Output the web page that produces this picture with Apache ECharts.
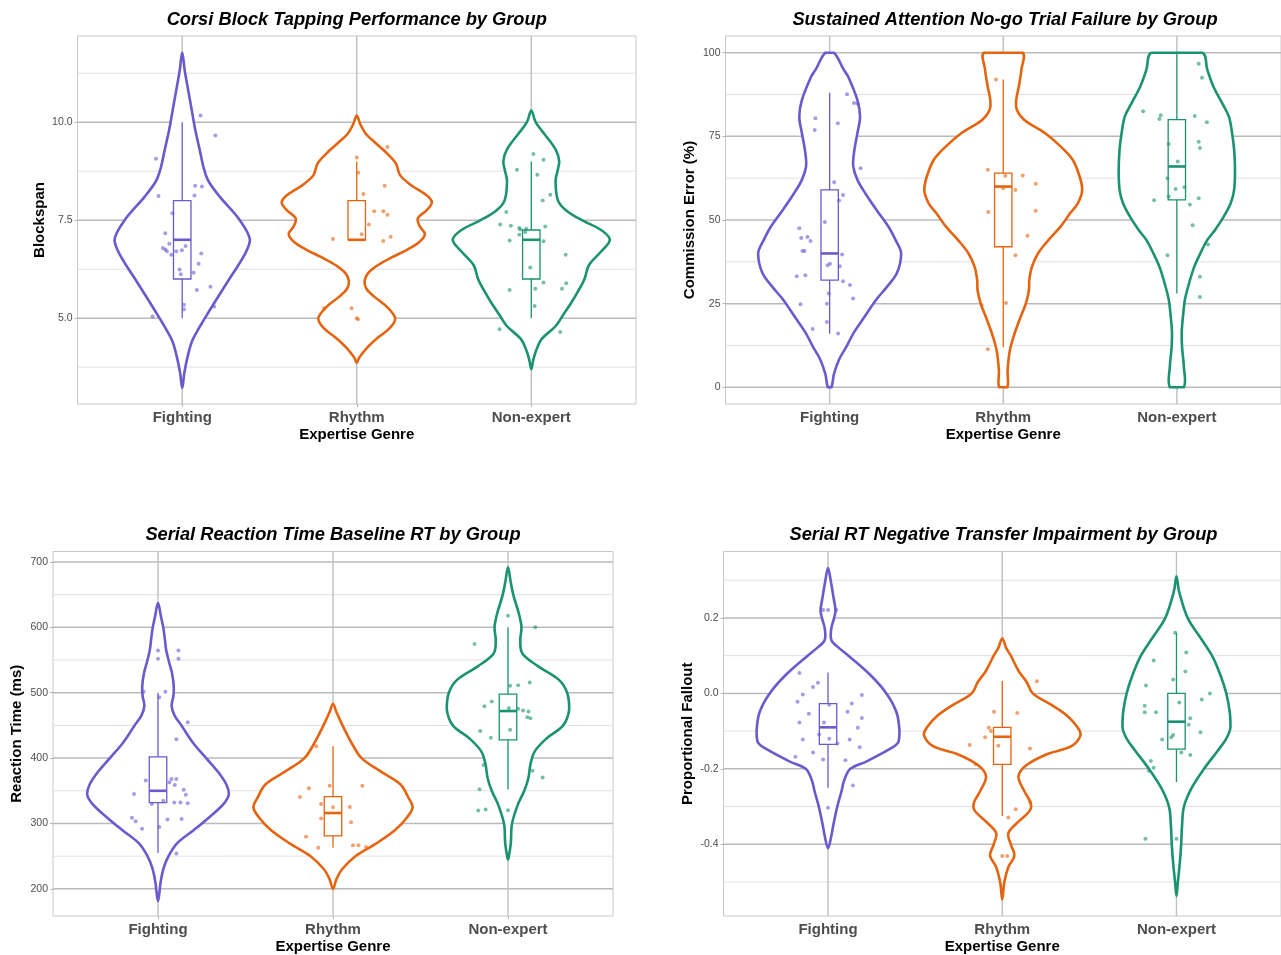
<!DOCTYPE html>
<html>
<head>
<meta charset="utf-8">
<script src="https://cdn.jsdelivr.net/npm/echarts@6/dist/echarts.min.js"></script>
<style>
  html, body { margin: 0; padding: 0; background: #fff; }
  #chart { width: 1281px; height: 955px; }
</style>
</head>
<body>
<div id="chart"></div>
<script>
const groups = ['Fighting', 'Rhythm', 'Non-expert'];
const groupColors = ['#6a5acd', '#e4640f', '#1b9270'];

// violin outlines: [value, half width in category units]
// boxes: [lower whisker, q1, median, q3, upper whisker]
// points: [horizontal jitter, value]

// --- Corsi block tapping
const corsiMajor = [5, 7.5, 10];
const corsiMinor = [3.75, 6.25, 8.75, 11.25];
const corsiFightingViolin = [[11.78,0],[11.3,0.015],[10.8,0.035],[10.3,0.055],[9.8,0.075],[9.3,0.1],[8.8,0.125],[8.5,0.15],[8.1,0.215],[7.5,0.33],[7.0,0.388],[6.6,0.355],[6.0,0.27],[5.4,0.185],[5.0,0.13],[4.7,0.09],[4.4,0.055],[4.0,0.03],[3.6,0.012],[3.22,0]];
const corsiRhythmViolin = [[10.17,0],[9.95,0.02],[9.7,0.053],[9.5,0.1],[9.29,0.153],[8.95,0.224],[8.65,0.248],[8.4,0.31],[8.1,0.41],[7.95,0.43],[7.75,0.4],[7.55,0.35],[7.35,0.36],[7.15,0.39],[6.95,0.36],[6.75,0.29],[6.55,0.2],[6.35,0.12],[6.15,0.065],[5.95,0.045],[5.75,0.055],[5.55,0.1],[5.3,0.17],[5.0,0.22],[4.75,0.19],[4.5,0.12],[4.25,0.06],[4.0,0.015],[3.86,0]];
const corsiNonexpertViolin = [[10.3,0],[10.0,0.025],[9.7,0.075],[9.3,0.14],[9.0,0.16],[8.75,0.15],[8.5,0.139],[8.0,0.153],[7.75,0.2],[7.5,0.29],[7.25,0.4],[7.0,0.45],[6.7,0.4],[6.35,0.33],[6.0,0.305],[5.7,0.27],[5.4,0.23],[5.1,0.185],[4.8,0.14],[4.47,0.06],[4.2,0.03],[3.95,0.012],[3.7,0]];
const corsiBoxes = [[5, 6, 7, 8, 10], [7, 7, 7, 8, 9], [5, 6, 7, 7.25, 9]];
const corsiFightingPoints = [[0.105,10.17],[0.19,9.66],[-0.15,9.07],[-0.136,8.12],[0.074,8.38],[0.113,8.36],[0.07,8.13],[-0.056,7.68],[-0.097,7.17],[-0.074,6.9],[-0.111,6.79],[-0.097,6.75],[-0.088,6.71],[-0.063,6.62],[-0.034,6.71],[-0.002,6.73],[0.019,6.84],[0.109,6.65],[0.094,6.39],[-0.015,6.24],[-0.008,6.12],[0.065,6.16],[0.084,5.72],[0.162,5.8],[0.183,5.3],[0.01,5.34],[0.01,5.23],[-0.17,5.04]];
const corsiRhythmPoints = [[0.176,9.37],[0,9.1],[0.008,8.71],[0.16,8.38],[0.038,8.17],[0.1,7.73],[0.152,7.73],[0.176,7.64],[0.07,7.39],[0.028,7.14],[-0.136,7.02],[0.152,6.97],[0.194,7.08],[-0.187,5.25],[-0.03,5.25],[0,5.0],[0.007,4.97]];
const corsiNonexpertPoints = [[0.012,9.19],[0.07,9.04],[-0.082,8.79],[0.035,8.66],[0.109,8.15],[0.065,8.0],[-0.143,7.71],[-0.178,7.39],[-0.117,7.36],[-0.069,7.3],[-0.063,7.26],[-0.034,7.2],[-0.029,7.28],[0.08,7.34],[-0.124,6.98],[-0.069,7.13],[0.07,6.96],[0.197,6.62],[-0.006,6.29],[0.07,5.91],[-0.124,5.72],[0.023,5.75],[0.176,5.75],[0.2,5.89],[0.019,5.31],[-0.182,4.72],[0.166,4.65]];

// --- Sustained attention no-go failures
const sartMajor = [0, 25, 50, 75, 100];
const sartMinor = [12.5, 37.5, 62.5, 87.5];
const sartFightingViolin = [[100,0.025],[95,0.08],[92.8,0.107],[85.8,0.16],[80.9,0.175],[76,0.16],[70,0.14],[66,0.136],[62,0.16],[58,0.205],[53,0.27],[48,0.339],[44,0.38],[40,0.412],[34.2,0.388],[30,0.33],[26.3,0.27],[21,0.2],[16.4,0.14],[12,0.095],[8.4,0.055],[4,0.025],[0,0.01]];
const sartRhythmViolin = [[100,0.11],[95,0.105],[90,0.09],[86,0.075],[83,0.078],[80,0.12],[76,0.24],[72,0.33],[68,0.4],[63,0.44],[59,0.455],[55,0.43],[52,0.385],[48,0.33],[44,0.26],[40,0.2],[36,0.165],[32,0.15],[29,0.148],[25,0.13],[21,0.1],[16,0.065],[11,0.038],[5,0.025],[0,0.023]];
const sartNonexpertViolin = [[100,0.146],[95,0.175],[90,0.21],[85,0.26],[80.9,0.3],[76,0.318],[71,0.33],[65,0.335],[59,0.33],[55,0.31],[51,0.27],[47,0.22],[44,0.175],[40,0.135],[36,0.1],[31,0.07],[26.3,0.047],[21,0.035],[16.4,0.028],[12,0.03],[6.4,0.04],[0,0.04]];
const sartBoxes = [[16, 32, 40, 59, 88], [12, 42, 60, 64, 92], [28, 56, 66, 80, 100]];
const sartFightingPoints = [[0.1,87.6],[0.14,85],[0.16,84.8],[-0.082,80.4],[-0.086,76.9],[0.047,78.9],[0.178,65.5],[0.026,61.3],[0.077,57.5],[0.054,55.8],[-0.028,49.4],[-0.175,47.5],[-0.164,44.6],[-0.128,44.9],[-0.11,43.7],[-0.157,40.7],[-0.145,40.7],[0.072,39.7],[0.002,36.9],[-0.012,36.5],[0.058,36.2],[-0.19,33.2],[-0.14,33.5],[0.077,31.7],[0.117,30.6],[-0.005,28],[0.135,26.5],[-0.168,24.8],[-0.016,25],[-0.016,19.5],[-0.098,17.4],[0.049,16.1]];
const sartRhythmPoints = [[-0.042,92],[-0.089,65],[0.012,63.2],[0.112,63.3],[0,59.5],[0.07,59],[0.187,60.8],[-0.086,52.4],[0.187,52.8],[0.14,45.3],[0.07,39.5],[-0.124,24.6],[0.016,25.2],[-0.089,11.4]];
const sartNonexpertPoints = [[0.126,96.7],[0.145,92.5],[-0.194,82.5],[-0.093,81.3],[-0.1,80.2],[0.103,81.1],[0.173,79.2],[0.126,73.4],[0.133,71.5],[-0.047,72.7],[-0.054,62.5],[0.005,67.5],[-0.007,59.3],[0.044,59.8],[-0.047,57],[-0.131,55.9],[0.126,56.5],[0.075,54.6],[0.091,48.4],[0.18,42.7],[-0.054,39.5],[0.133,33],[0.133,27]];

// --- Serial reaction time baseline
const srtMajor = [200, 300, 400, 500, 600, 700];
const srtMinor = [250, 350, 450, 550, 650];
const srtFightingViolin = [[637,0],[615,0.018],[600,0.03],[580,0.04],[565,0.047],[545,0.065],[530,0.08],[510,0.09],[495,0.088],[480,0.078],[465,0.095],[450,0.134],[435,0.17],[420,0.21],[400,0.275],[380,0.34],[360,0.39],[345,0.405],[330,0.375],[310,0.295],[290,0.205],[270,0.11],[250,0.06],[230,0.03],[210,0.015],[181,0]];
const srtRhythmViolin = [[483,0],[470,0.02],[460,0.037],[440,0.073],[420,0.113],[400,0.163],[380,0.27],[360,0.385],[340,0.43],[325,0.455],[310,0.425],[290,0.355],[270,0.25],[250,0.128],[230,0.052],[215,0.02],[200,0]];
const srtNonexpertViolin = [[692,0],[670,0.015],[650,0.03],[620,0.063],[600,0.077],[580,0.07],[560,0.082],[540,0.175],[520,0.29],[500,0.338],[475,0.35],[450,0.315],[430,0.22],[410,0.152],[390,0.128],[370,0.117],[350,0.093],[330,0.058],[300,0.023],[270,0.016],[250,0.005],[245,0]];
const srtBoxes = [[255, 332, 350, 402, 500], [263, 281, 316, 341, 418], [352, 428, 472, 498, 600]];
const srtFightingPoints = [[0,564.6],[0,552],[0.117,564.6],[0.117,552],[-0.082,501.5],[0.042,501.5],[0.007,493],[0.17,455],[0.105,428.8],[-0.07,365.7],[0.077,368.2],[0.065,363],[0.105,368],[0.096,359],[0.147,351.5],[-0.137,345],[0.159,344],[0.03,334.8],[0.093,332],[0.128,332],[0.17,331],[-0.035,329.8],[-0.149,308.6],[-0.128,303.5],[0.054,306],[0.135,307],[-0.091,292],[0.007,294.5],[0.105,254]];
const srtRhythmPoints = [[-0.096,418.2],[-0.138,354],[-0.189,340.4],[-0.019,357.6],[0.168,357.6],[-0.068,329.8],[0,324.7],[0.096,325.3],[-0.068,307.6],[0.103,302],[-0.154,279.8],[-0.084,263],[0.114,266.7],[0.145,266.7],[0.189,264.1]];
const srtNonexpertPoints = [[0,617.7],[0.156,600],[-0.191,574.7],[0.012,510.6],[0.058,511.6],[0.124,515.7],[-0.135,479.3],[-0.093,486.4],[0.005,476.3],[0.058,475.3],[0.086,472.7],[0.117,471.2],[0.11,462.6],[0.128,461.1],[0.012,443.4],[-0.159,441.4],[-0.098,431.3],[-0.14,389.4],[0.14,380.8],[0.198,370.2],[-0.163,352.5],[-0.17,319.7],[-0.128,321.2],[0,320.2]];

// --- Serial RT negative transfer
const trMajor = [-0.4, -0.2, 0.0, 0.2];
const trMinor = [-0.5, -0.3, -0.1, 0.1, 0.3];
const trFightingViolin = [[0.332,0],[0.3,0.015],[0.25,0.033],[0.22,0.043],[0.2,0.035],[0.17,0.018],[0.14,0.02],[0.12,0.064],[0.1,0.117],[0.05,0.24],[0.0,0.335],[-0.05,0.393],[-0.1,0.41],[-0.13,0.403],[-0.15,0.345],[-0.18,0.222],[-0.2,0.128],[-0.23,0.093],[-0.26,0.077],[-0.3,0.053],[-0.35,0.03],[-0.38,0.018],[-0.41,0]];
const trRhythmViolin = [[0.145,0],[0.12,0.023],[0.1,0.049],[0.06,0.093],[0.03,0.14],[0.0,0.175],[-0.03,0.28],[-0.06,0.374],[-0.09,0.432],[-0.11,0.45],[-0.14,0.397],[-0.16,0.263],[-0.19,0.14],[-0.22,0.093],[-0.26,0.128],[-0.29,0.163],[-0.31,0.159],[-0.34,0.093],[-0.37,0.035],[-0.4,0.049],[-0.43,0.07],[-0.46,0.035],[-0.5,0.012],[-0.546,0]];
const trNonexpertViolin = [[0.31,0],[0.27,0.015],[0.2,0.064],[0.15,0.134],[0.1,0.204],[0.05,0.251],[0.0,0.286],[-0.05,0.306],[-0.09,0.31],[-0.12,0.286],[-0.15,0.24],[-0.2,0.158],[-0.25,0.088],[-0.3,0.043],[-0.35,0.032],[-0.4,0.027],[-0.45,0.019],[-0.5,0.008],[-0.537,0]];
const trBoxes = [[-0.25, -0.135, -0.09, -0.027, 0.055], [-0.325, -0.188, -0.115, -0.09, 0.033], [-0.235, -0.148, -0.075, 0.0, 0.16]];
const trFightingPoints = [[-0.028,0.221],[0,0.221],[0.047,0.221],[-0.164,0.054],[-0.058,0.028],[-0.086,0.017],[-0.145,-0.003],[0.194,-0.004],[-0.175,-0.022],[0.007,-0.03],[0.136,-0.027],[-0.11,-0.054],[0.112,-0.049],[-0.164,-0.077],[-0.023,-0.077],[0.194,-0.065],[0.171,-0.091],[-0.051,-0.109],[0.007,-0.12],[-0.145,-0.122],[0.124,-0.122],[0.054,-0.133],[0.182,-0.143],[-0.086,-0.157],[-0.187,-0.168],[-0.028,-0.175],[0.1,-0.177],[0.143,-0.244],[0,-0.303]];
const trRhythmPoints = [[0.199,0.032],[-0.047,-0.049],[0.086,-0.052],[-0.077,-0.091],[-0.065,-0.1],[-0.098,-0.116],[-0.187,-0.137],[-0.023,-0.139],[0.159,-0.146],[-0.152,-0.188],[0.159,-0.287],[0.077,-0.307],[0.035,-0.329],[0,-0.431],[0.028,-0.431]];
const trNonexpertPoints = [[-0.007,0.161],[0.056,0.108],[-0.131,0.087],[0.051,0.058],[-0.019,0.037],[-0.175,0.021],[0.192,0],[0.145,-0.016],[0.016,-0.024],[-0.182,-0.033],[-0.182,-0.05],[-0.117,-0.05],[0.079,-0.066],[0.07,-0.083],[0.138,-0.103],[-0.019,-0.11],[-0.03,-0.116],[-0.082,-0.122],[0.028,-0.157],[0.079,-0.163],[-0.147,-0.179],[-0.131,-0.197],[-0.159,-0.205],[-0.178,-0.385],[0,-0.385]];

const panels = [
  { title: 'Corsi Block Tapping Performance by Group', yName: 'Blockspan',
    grid: { left: 77.5, top: 36, width: 558.5, height: 368 }, yMin: 2.81, yMax: 12.2,
    major: corsiMajor, minor: corsiMinor, fmt: v => v.toFixed(1), yGap: 30,
    violins: [corsiFightingViolin, corsiRhythmViolin, corsiNonexpertViolin],
    boxes: corsiBoxes, points: [corsiFightingPoints, corsiRhythmPoints, corsiNonexpertPoints] },
  { title: 'Sustained Attention No-go Trial Failure by Group', yName: 'Commission Error (%)',
    grid: { left: 725.5, top: 36, width: 559, height: 368 }, yMin: -5, yMax: 105,
    major: sartMajor, minor: sartMinor, fmt: v => String(v), yGap: 28,
    violins: [sartFightingViolin, sartRhythmViolin, sartNonexpertViolin],
    boxes: sartBoxes, points: [sartFightingPoints, sartRhythmPoints, sartNonexpertPoints] },
  { title: 'Serial Reaction Time Baseline RT by Group', yName: 'Reaction Time (ms)',
    grid: { left: 53, top: 551.5, width: 560, height: 367.5 }, yMin: 158.5, yMax: 716,
    major: srtMajor, minor: srtMinor, fmt: v => String(v), yGap: 28.5,
    violins: [srtFightingViolin, srtRhythmViolin, srtNonexpertViolin],
    boxes: srtBoxes, points: [srtFightingPoints, srtRhythmPoints, srtNonexpertPoints] },
  { title: 'Serial RT Negative Transfer Impairment by Group', yName: 'Proportional Fallout',
    grid: { left: 723.5, top: 551.5, width: 560, height: 367.5 }, yMin: -0.59, yMax: 0.376,
    major: trMajor, minor: trMinor, fmt: v => v.toFixed(1), yGap: 28,
    violins: [trFightingViolin, trRhythmViolin, trNonexpertViolin],
    boxes: trBoxes, points: [trFightingPoints, trRhythmPoints, trNonexpertPoints] }
];

const X_MIN = 0.4, X_MAX = 3.6;

function lineSeries(i, data, color, width, vertical, p) {
  return {
    type: 'custom', xAxisIndex: i, yAxisIndex: i, z: 1, silent: true, clip: false,
    data: data,
    renderItem: (params, api) => {
      let a, b;
      if (vertical) {
        a = api.coord([api.value(0), p.yMin]);
        b = api.coord([api.value(0), p.yMax]);
      } else {
        a = api.coord([X_MIN, api.value(1)]);
        b = api.coord([X_MAX, api.value(1)]);
      }
      return { type: 'line', shape: { x1: a[0], y1: a[1], x2: b[0], y2: b[1] },
        style: { stroke: color, lineWidth: width } };
    }
  };
}

function violinSeries(i, p) {
  return {
    type: 'custom', xAxisIndex: i, yAxisIndex: i, z: 3, silent: true, clip: false,
    data: [1, 2, 3].map(c => [c, p.boxes[c - 1][2]]),
    renderItem: (params, api) => {
      const g = params.dataIndex, prof = p.violins[g], cx = g + 1;
      const left = prof.map(d => api.coord([cx - d[1], d[0]]));
      const right = prof.slice().reverse().filter(d => d[1] > 0).map(d => api.coord([cx + d[1], d[0]]));
      const pts = left.concat(right);
      const xs = pts.map(q => q[0]), ys = pts.map(q => q[1]);
      const bounds = [[Math.min.apply(null, xs), Math.min.apply(null, ys)], [Math.max.apply(null, xs), Math.max.apply(null, ys)]];
      return { type: 'polygon', shape: { points: pts, smooth: 0.35, smoothConstraint: bounds },
        style: { fill: '#ffffff', stroke: groupColors[g], lineWidth: 2.6 } };
    }
  };
}

function boxSeries(i, p) {
  return {
    type: 'custom', xAxisIndex: i, yAxisIndex: i, z: 4, silent: true, clip: false,
    data: [1, 2, 3].map(c => [c, p.boxes[c - 1][2]]),
    renderItem: (params, api) => {
      const g = params.dataIndex, b = p.boxes[g], cx = g + 1, hw = 0.05, c = groupColors[g];
      const lo = api.coord([cx, b[0]]), q1 = api.coord([cx, b[1]]);
      const q3 = api.coord([cx, b[3]]), hi = api.coord([cx, b[4]]);
      const tl = api.coord([cx - hw, b[3]]), br = api.coord([cx + hw, b[1]]);
      const ml = api.coord([cx - hw, b[2]]), mr = api.coord([cx + hw, b[2]]);
      return { type: 'group', children: [
        { type: 'line', shape: { x1: lo[0], y1: lo[1], x2: q1[0], y2: q1[1] }, style: { stroke: c, lineWidth: 1.3 } },
        { type: 'line', shape: { x1: q3[0], y1: q3[1], x2: hi[0], y2: hi[1] }, style: { stroke: c, lineWidth: 1.3 } },
        { type: 'rect', shape: { x: tl[0], y: tl[1], width: br[0] - tl[0], height: br[1] - tl[1] },
          style: { fill: 'none', stroke: c, lineWidth: 1.3 } },
        { type: 'line', shape: { x1: ml[0], y1: ml[1], x2: mr[0], y2: mr[1] }, style: { stroke: c, lineWidth: 2.6 } }
      ] };
    }
  };
}

const grids = [], xAxes = [], yAxes = [], series = [], graphics = [];
panels.forEach((p, i) => {
  grids.push(Object.assign({ show: true, borderColor: '#c8c8c8', borderWidth: 1, backgroundColor: 'transparent' }, p.grid));
  xAxes.push({
    type: 'value', gridIndex: i, min: X_MIN, max: X_MAX,
    splitLine: { show: false }, axisLine: { show: false },
    axisTick: { show: true, customValues: [1, 2, 3], length: 3, lineStyle: { color: '#b5b5b5' } },
    axisLabel: { customValues: [1, 2, 3], formatter: v => groups[Math.round(v) - 1], margin: 6,
      fontFamily: '"Liberation Sans", Arial, sans-serif', fontSize: 15, fontWeight: 'bold', color: '#4d4d4d' },
    name: 'Expertise Genre', nameLocation: 'middle', nameGap: 23,
    nameTextStyle: { fontFamily: '"Liberation Sans", Arial, sans-serif', fontSize: 15, fontWeight: 'bold', color: '#000' }
  });
  yAxes.push({
    type: 'value', gridIndex: i, min: p.yMin, max: p.yMax,
    splitLine: { show: false }, axisLine: { show: false },
    axisTick: { show: true, customValues: p.major, length: 3, lineStyle: { color: '#b5b5b5' } },
    axisLabel: { customValues: p.major, formatter: p.fmt, margin: 5,
      fontFamily: '"Liberation Sans", Arial, sans-serif', fontSize: 10.5, color: '#4d4d4d' },
    name: p.yName, nameLocation: 'middle', nameGap: p.yGap,
    nameTextStyle: { fontFamily: '"Liberation Sans", Arial, sans-serif', fontSize: 15, fontWeight: 'bold', color: '#000' }
  });
  series.push(lineSeries(i, p.minor.map(v => [2, v]), '#e1e1e1', 1, false, p));
  series.push(lineSeries(i, p.major.map(v => [2, v]), '#bababa', 1.5, false, p));
  series.push(lineSeries(i, [1, 2, 3].map(c => [c, p.major[0]]), '#c0c0c0', 1.4, true, p));
  series.push(violinSeries(i, p));
  series.push(boxSeries(i, p));
  p.points.forEach((pts, g) => {
    series.push({
      type: 'scatter', xAxisIndex: i, yAxisIndex: i, z: 5, silent: true,
      symbolSize: 4, itemStyle: { color: groupColors[g], opacity: 0.6 },
      data: pts.map(d => [g + 1 + d[0], d[1]])
    });
  });
  graphics.push({
    type: 'text', x: p.grid.left + p.grid.width / 2, y: p.grid.top - 16.5,
    style: { text: p.title, fill: '#000', align: 'center', verticalAlign: 'middle',
      font: 'italic bold 18.3px "Liberation Sans", Arial, sans-serif' }
  });
});

const chart = echarts.init(document.getElementById('chart'), null, { renderer: 'canvas' });
chart.setOption({
  animation: false,
  backgroundColor: '#ffffff',
  grid: grids, xAxis: xAxes, yAxis: yAxes, series: series, graphic: graphics
});
</script>
</body>
</html>
